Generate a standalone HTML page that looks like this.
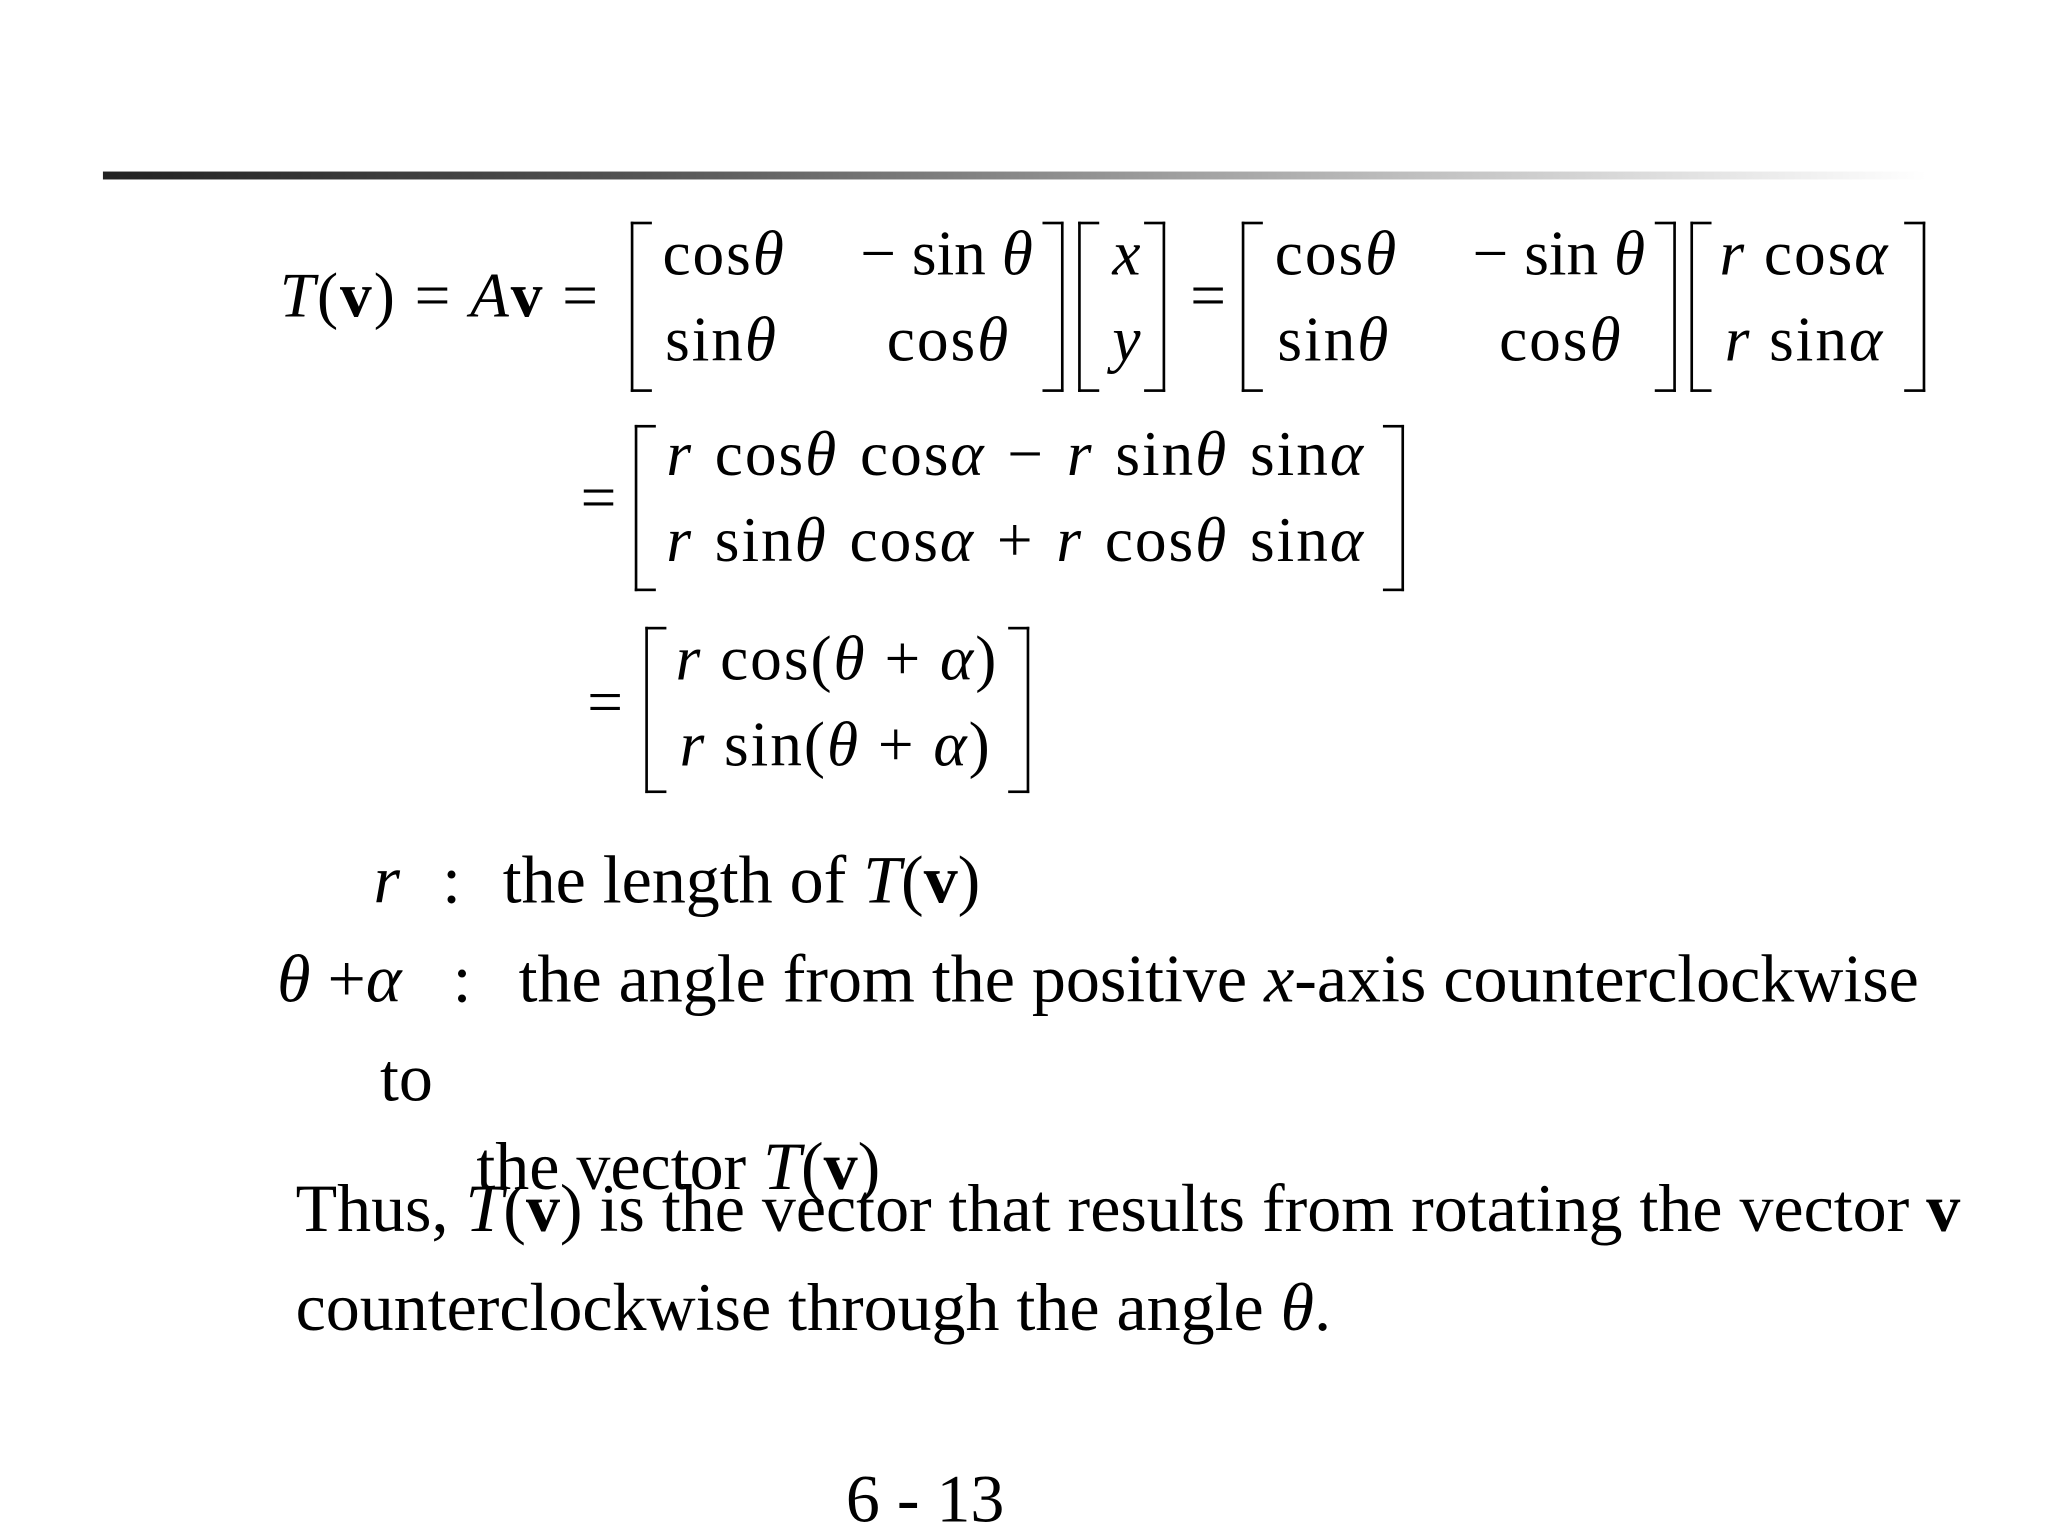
<!DOCTYPE html>
<html><head><meta charset="utf-8"><style>
html,body{margin:0;padding:0;background:#fff;}
#w{width:1552px;height:1164px;position:relative;transform:scale(1.3196);transform-origin:0 0;font-family:"Liberation Serif",serif;color:#000;}
.t{position:absolute;white-space:nowrap;font-size:51.5px;line-height:52px;}
.m{font-size:48px;line-height:48px;letter-spacing:1.5px;}
.lb{position:absolute;border:2.5px solid #000;border-right:none;width:14px;}
.rb{position:absolute;border:2.5px solid #000;border-left:none;width:14px;}
i{font-style:italic;}
</style></head><body><div id="w">
<div style="position:absolute;left:78px;top:130px;width:1382px;height:6px;background:linear-gradient(to right,#222 0%,#555 30%,#bbb 70%,#fff 100%);"></div>

<!-- row 1 -->
<div class="t m" style="left:212px;top:201px;"><i>T</i>(<b>v</b>) = <i>A</i><b>v</b> =</div>
<div class="lb" style="left:478px;top:168px;height:125px;"></div>
<div class="t m" style="left:502px;top:169px;">cos<i>θ</i></div>
<div class="t m" style="left:652px;top:169px;letter-spacing:0;">− sin <i>θ</i></div>
<div class="t m" style="left:504px;top:234px;">sin<i>θ</i></div>
<div class="t m" style="left:672px;top:234px;">cos<i>θ</i></div>
<div class="rb" style="left:790px;top:168px;height:125px;"></div>
<div class="lb" style="left:817px;top:168px;height:125px;"></div>
<div class="t m" style="left:843px;top:169px;"><i>x</i></div>
<div class="t m" style="left:843px;top:234px;"><i>y</i></div>
<div class="rb" style="left:867px;top:168px;height:125px;"></div>
<div class="t m" style="left:902px;top:201px;">=</div>
<div class="lb" style="left:941px;top:168px;height:125px;"></div>
<div class="t m" style="left:966px;top:169px;">cos<i>θ</i></div>
<div class="t m" style="left:1116px;top:169px;letter-spacing:0;">− sin <i>θ</i></div>
<div class="t m" style="left:968px;top:234px;">sin<i>θ</i></div>
<div class="t m" style="left:1136px;top:234px;">cos<i>θ</i></div>
<div class="rb" style="left:1254px;top:168px;height:125px;"></div>
<div class="lb" style="left:1281px;top:168px;height:125px;"></div>
<div class="t m" style="left:1303px;top:169px;"><i>r</i> cos<i>α</i></div>
<div class="t m" style="left:1307px;top:234px;"><i>r</i> sin<i>α</i></div>
<div class="rb" style="left:1443px;top:168px;height:125px;"></div>

<!-- row 2 -->
<div class="t m" style="left:440px;top:354px;">=</div>
<div class="lb" style="left:481px;top:322px;height:122px;"></div>
<div class="t m" style="left:505px;top:321px;word-spacing:3px;"><i>r</i> cos<i>θ</i> cos<i>α</i> − <i>r</i> sin<i>θ</i> sin<i>α</i></div>
<div class="t m" style="left:505px;top:386px;word-spacing:3px;"><i>r</i> sin<i>θ</i> cos<i>α</i> + <i>r</i> cos<i>θ</i> sin<i>α</i></div>
<div class="rb" style="left:1048px;top:322px;height:122px;"></div>

<!-- row 3 -->
<div class="t m" style="left:445px;top:509px;">=</div>
<div class="lb" style="left:489px;top:475px;height:122px;"></div>
<div class="t m" style="left:512px;top:476px;"><i>r</i> cos(<i>θ</i> + <i>α</i>)</div>
<div class="t m" style="left:515px;top:541px;"><i>r</i> sin(<i>θ</i> + <i>α</i>)</div>
<div class="rb" style="left:764px;top:475px;height:122px;"></div>

<!-- definitions -->
<div class="t" style="left:283px;top:642px;"><i>r</i></div>
<div class="t" style="left:335px;top:642px;">:</div>
<div class="t" style="left:381px;top:642px;">the length of <i>T</i>(<b>v</b>)</div>
<div class="t" style="left:210px;top:717px;"><i>θ</i> +<i>α</i></div>
<div class="t" style="left:343px;top:717px;">:</div>
<div class="t" style="left:393px;top:717px;">the angle from the positive <i>x</i>-axis counterclockwise</div>
<div class="t" style="left:288px;top:792px;">to</div>
<div class="t" style="left:361px;top:859px;">the vector <i>T</i>(<b>v</b>)</div>
<div class="t" style="left:224px;top:891px;">Thus, <i>T</i>(<b>v</b>) is the vector that results from rotating the vector <b>v</b></div>
<div class="t" style="left:224px;top:966px;">counterclockwise through the angle <i>θ</i>.</div>
<div class="t" style="left:641px;top:1111px;">6 - 13</div>
</div></body></html>
